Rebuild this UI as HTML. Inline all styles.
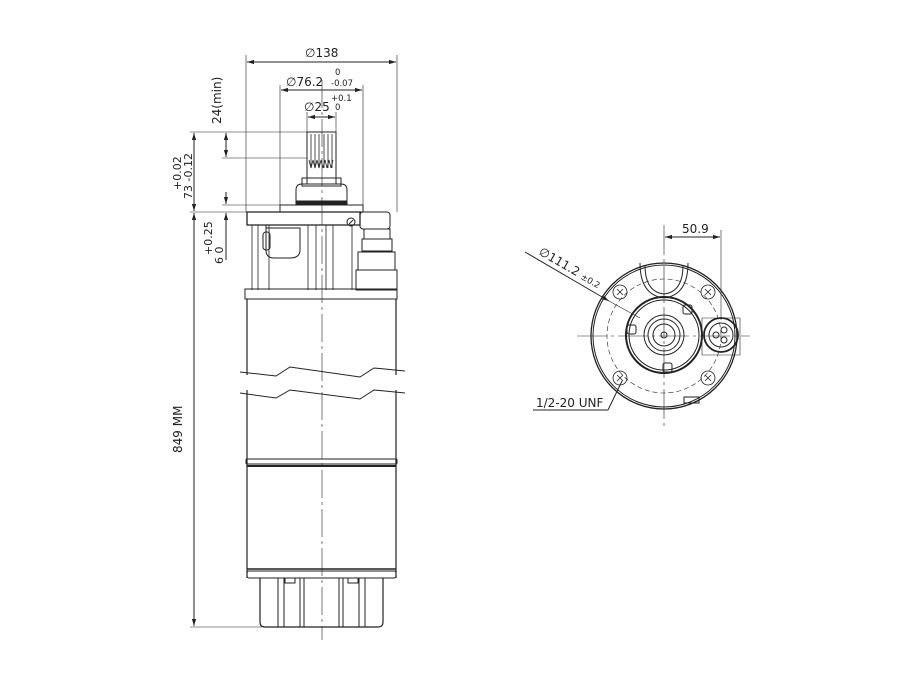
<!DOCTYPE html>
<html><head><meta charset="utf-8"><style>
html,body{margin:0;padding:0;background:#fff;}
svg{display:block;}
text{font-family:"DejaVu Sans","Liberation Sans",sans-serif;fill:#222;}
</style></head><body>
<svg width="900" height="680" viewBox="0 0 900 680" xmlns="http://www.w3.org/2000/svg">
<defs>
<marker id="a" viewBox="0 0 10 10" refX="10" refY="5" markerWidth="7" markerHeight="7" orient="auto-start-reverse"><path d="M0,2 L10,5 L0,8 z" fill="#222"/></marker>
</defs>
<g stroke="#222" fill="none" stroke-width="1">
<line x1="322" y1="80" x2="322" y2="640" stroke-dasharray="28,4,3,4" stroke-width="0.6"/>
<line x1="246" y1="55" x2="246" y2="212" stroke-width="0.6"/>
<line x1="397" y1="55" x2="397" y2="212" stroke-width="0.6"/>
<line x1="247" y1="62" x2="396" y2="62" marker-start="url(#a)" marker-end="url(#a)"/>
<line x1="280" y1="85" x2="280" y2="205" stroke-width="0.6"/>
<line x1="363" y1="85" x2="363" y2="205" stroke-width="0.6"/>
<line x1="281" y1="90" x2="362" y2="90" marker-start="url(#a)" marker-end="url(#a)"/>
<line x1="307" y1="112" x2="307" y2="132" stroke-width="0.6"/>
<line x1="336" y1="112" x2="336" y2="132" stroke-width="0.6"/>
<line x1="308" y1="117" x2="335" y2="117" marker-start="url(#a)" marker-end="url(#a)"/>
<line x1="190" y1="132" x2="307" y2="132" stroke-width="0.6"/>
<line x1="222" y1="158" x2="307" y2="158" stroke-width="0.6"/>
<line x1="226" y1="133" x2="226" y2="157" marker-start="url(#a)" marker-end="url(#a)"/>
<line x1="194" y1="133" x2="194" y2="211" marker-start="url(#a)" marker-end="url(#a)"/>
<line x1="222" y1="205" x2="280" y2="205" stroke-width="0.6"/>
<line x1="190" y1="212" x2="247" y2="212" stroke-width="0.6"/>
<line x1="226" y1="192" x2="226" y2="204" marker-end="url(#a)"/>
<line x1="226" y1="260" x2="226" y2="213" marker-end="url(#a)"/>
<line x1="194" y1="213" x2="194" y2="626" marker-start="url(#a)" marker-end="url(#a)"/>
<line x1="190" y1="627" x2="262" y2="627" stroke-width="0.6"/>
<rect x="307" y="132" width="29" height="52"/>
<g stroke-width="0.8"><line x1="311" y1="134" x2="311" y2="168"/><line x1="315" y1="134" x2="315" y2="168"/><line x1="319" y1="134" x2="319" y2="168"/><line x1="324" y1="134" x2="324" y2="168"/><line x1="328" y1="134" x2="328" y2="168"/><line x1="332" y1="134" x2="332" y2="168"/>
<path d="M309 160 l2 8 l2 -8 l2 8 l2 -8 l2 8 l2 -8 l2 8 l2 -8 l2 8 l2 -8 l2 8 l2 -8"/></g>
<rect x="302" y="178" width="39" height="8"/>
<path d="M296 205 V190 Q296 184 302 184 H341 Q347 184 347 190 V205"/>
<rect x="297" y="201" width="50" height="4" fill="#222"/>
<rect x="280" y="205" width="83" height="7"/>
<path d="M247 212 H360 V225 H247 Z" stroke-width="1.3"/>
<rect x="360" y="212" width="30" height="17" rx="3"/>
<circle cx="351" cy="222" r="4"/>
<line x1="349" y1="224" x2="353" y2="220"/>
<path d="M252 225 V290 M258 225 V290 M269 225 V290 M308 225 V290 M316 225 V290 M326 225 V290 M333 225 V290 M352 225 V290" stroke-width="0.8"/>
<path d="M266 225 V250 Q266 258 274 258 H290 Q300 258 300 250 V228 H266"/>
<rect x="263" y="232" width="7" height="18" rx="3"/>
<rect x="364" y="229" width="26" height="10"/>
<rect x="362" y="239" width="30" height="12"/>
<rect x="358" y="252" width="37" height="18"/>
<rect x="356" y="270" width="41" height="20"/>
<rect x="245" y="289" width="152" height="10"/>
<path d="M247 299 V375 M396 299 V375 M247 390 V578 M396 390 V578" stroke-width="1.2"/>
<path d="M240 372 L276 376 L290 367 L360 377 L374 368 L405 371"/>
<path d="M240 393 L276 398 L290 390 L360 399 L374 390 L405 393"/>
<rect x="246" y="459" width="151" height="5" rx="1"/>
<line x1="247" y1="466" x2="396" y2="466" stroke-width="2"/>
<line x1="247" y1="569" x2="396" y2="569" stroke-width="1.5"/>
<rect x="247" y="571" width="149" height="7" rx="2"/>
<path d="M260 578 V622 Q260 627 265 627 H378 Q383 627 383 622 V578" stroke-width="1.2"/>
<path d="M278 578 V627 M284 578 V627 M300 578 V627 M304 578 V627 M339 578 V627 M343 578 V627 M359 578 V627 M365 578 V627"/>
<rect x="285" y="578" width="10" height="5"/><rect x="348" y="578" width="10" height="5"/>
</g>
<text x="305" y="57" font-size="12">∅138</text>
<text x="286" y="86" font-size="12">∅76.2</text>
<text x="335" y="75" font-size="8.5">0</text>
<text x="331" y="86" font-size="8.5">-0.07</text>
<text x="304" y="111" font-size="12">∅25</text>
<text x="331" y="101" font-size="8.5">+0.1</text>
<text x="335" y="110" font-size="8.5">0</text>
<text transform="translate(221,124) rotate(-90)" font-size="12">24(min)</text>
<text transform="translate(181,190) rotate(-90)" font-size="11">+0.02</text>
<text transform="translate(192,199) rotate(-90)" font-size="11">73 -0.12</text>
<text transform="translate(212,255) rotate(-90)" font-size="11">+0.25</text>
<text transform="translate(223,264) rotate(-90)" font-size="11">6  0</text>
<text transform="translate(182,453) rotate(-90)" font-size="12">849 MM</text>
<g stroke="#222" fill="none" stroke-width="1">
<line x1="577" y1="336" x2="750" y2="336" stroke-dasharray="30,4,3,4" stroke-width="0.6"/>
<line x1="664" y1="225" x2="664" y2="430" stroke-dasharray="30,4,3,4" stroke-width="0.6"/>
<line x1="721" y1="230" x2="721" y2="320" stroke-width="0.6"/>
<line x1="665" y1="237" x2="720" y2="237" marker-start="url(#a)" marker-end="url(#a)"/>
<circle cx="664" cy="336" r="73" stroke-width="1.3"/>
<circle cx="664" cy="336" r="71"/>
<circle cx="664" cy="336" r="57" stroke-dasharray="5,3" stroke-width="0.6"/>
<path d="M640 263 Q640 295 664 298 Q688 295 688 263"/>
<path d="M645 265 Q645 292 664 294 Q683 292 683 265"/>
<circle cx="664" cy="335" r="38" stroke-width="2"/>
<circle cx="664" cy="335" r="35"/>
<circle cx="664" cy="335" r="20"/>
<circle cx="664" cy="335" r="16"/>
<circle cx="664" cy="335" r="11"/>
<circle cx="664" cy="335" r="3"/>
<rect x="627" y="325" width="9" height="9" rx="2"/>
<rect x="683" y="305" width="9" height="9" rx="2"/>
<rect x="663" y="363" width="9" height="9" rx="2"/>
<circle cx="721" cy="335" r="17" stroke-width="1.8"/>
<circle cx="721" cy="335" r="12"/>
<circle cx="716" cy="335" r="3"/><circle cx="724" cy="330" r="3"/><circle cx="724" cy="340" r="3"/>
<path d="M702 318 H740 V355 H702 Z" stroke-width="0.6"/>
<g stroke-width="0.8">
<circle cx="620" cy="292" r="7"/><circle cx="708" cy="292" r="7"/><circle cx="620" cy="378" r="7"/><circle cx="708" cy="378" r="7"/>
<path d="M617 289 l6 6 M623 289 l-6 6 M705 289 l6 6 M711 289 l-6 6 M617 375 l6 6 M623 375 l-6 6 M705 375 l6 6 M711 375 l-6 6"/>
</g>
<rect x="684" y="397" width="15" height="6"/>
<line x1="525" y1="252" x2="609" y2="301" marker-end="url(#a)"/>
<line x1="609" y1="301" x2="640" y2="318" stroke-width="0.6"/>
<line x1="533" y1="410" x2="608" y2="410"/>
<line x1="608" y1="410" x2="622" y2="381"/>
</g>
<text transform="translate(538,254) rotate(30)" font-size="12">∅111.2 <tspan font-size="8.5">±0.2</tspan></text>
<text x="682" y="233" font-size="12">50.9</text>
<text x="536" y="407" font-size="12">1/2-20 UNF</text>
</svg>
</body></html>
